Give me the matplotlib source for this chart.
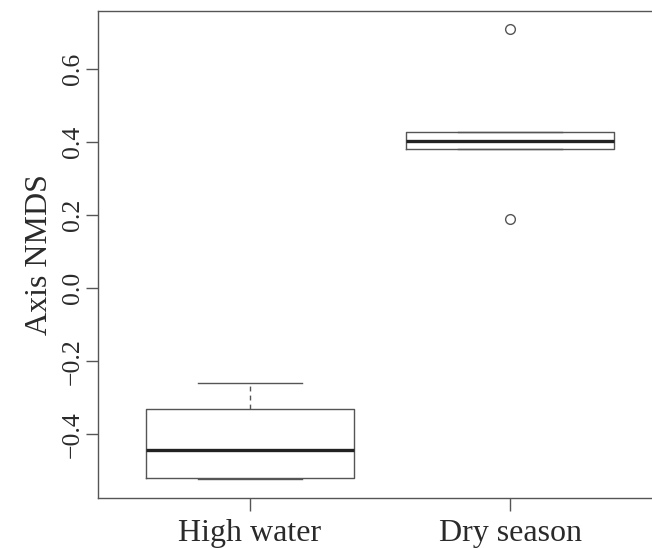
import matplotlib
matplotlib.use("Agg")
import matplotlib.pyplot as plt

# data
groups = ["High water", "Dry season"]
whisker_low = [-0.523, 0.3825]
q1 = [-0.5205, 0.3825]
medians = [-0.443, 0.4036]
q3 = [-0.3315, 0.4282]
whisker_high = [-0.2586, 0.4282]
outliers = [[], [0.7104, 0.1899]]

yticks = [-0.4, -0.2, 0.0, 0.2, 0.4, 0.6]

plt.rcParams['font.family'] = ['Liberation Serif', 'DejaVu Serif']
LINE = '#555555'
TEXT = '#2a2a2a'

fig = plt.figure(figsize=(6.52, 5.48), dpi=100)
ax = fig.add_axes([0.1503, 0.0918, 0.8497, 0.8887])

stats = []
for i in range(len(groups)):
    stats.append(dict(label=groups[i], whislo=whisker_low[i], q1=q1[i],
                      med=medians[i], q3=q3[i], whishi=whisker_high[i],
                      fliers=outliers[i]))

ax.bxp(stats, positions=[1, 2], widths=0.8, showfliers=True,
       boxprops=dict(color=LINE, linewidth=1.0),
       medianprops=dict(color='#222222', linewidth=2.4, solid_capstyle='butt'),
       whiskerprops=dict(color=LINE, linewidth=1.0, linestyle=(0, (3.5, 3))),
       capprops=dict(color=LINE, linewidth=1.0),
       capwidths=0.4,
       flierprops=dict(marker='o', markersize=7, markerfacecolor='none',
                       markeredgecolor=LINE, markeredgewidth=1.0))

ax.set_xlim(0.417, 2.545)
ax.set_ylim(-0.5737, 0.7605)

ax.set_yticks(yticks)
ax.set_yticklabels(["\u22120.4", "\u22120.2", "0.0", "0.2", "0.4", "0.6"],
                   rotation=90, va='center', fontsize=18.5, color=TEXT)
ax.set_xticks([1, 2])
ax.set_xticklabels(groups, fontsize=23, color=TEXT)

ax.tick_params(axis='both', length=9, width=1.0, color=LINE)
ax.tick_params(axis='y', pad=1)
ax.tick_params(axis='x', pad=6)

ax.set_ylabel("Axis NMDS", fontsize=23, color=TEXT, labelpad=6)

ax.spines['right'].set_visible(False)
for s in ['left', 'top', 'bottom']:
    ax.spines[s].set_color(LINE)
    ax.spines[s].set_linewidth(1.0)

fig.savefig("out.png", dpi=100)
